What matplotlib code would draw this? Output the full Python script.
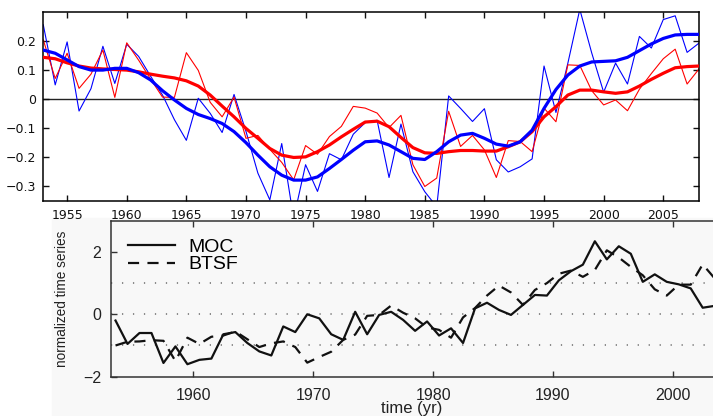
import numpy as np
import matplotlib
matplotlib.use("Agg")
import matplotlib.pyplot as plt
from matplotlib.patches import Rectangle

# top panel: annual values 1953-2008
years_top = np.arange(1953, 2009)
red_thin = [0.205, 0.072, 0.159, 0.038, 0.087, 0.17, 0.007, 0.195, 0.135, 0.07,
            0.008, 0.007, 0.161, 0.1, -0.01, -0.06, 0.008, -0.134, -0.124, -0.172,
            -0.217, -0.277, -0.159, -0.189, -0.128, -0.093, -0.024, -0.03, -0.047, -0.097,
            -0.055, -0.225, -0.3, -0.271, -0.041, -0.162, -0.124, -0.174, -0.269, -0.142,
            -0.145, -0.18, -0.03, -0.077, 0.119, 0.117, 0.03, -0.019, -0.002, -0.039,
            0.035, 0.089, 0.14, 0.173, 0.053, 0.105]
blue_thin = [0.257, 0.05, 0.198, -0.04, 0.037, 0.183, 0.055, 0.19, 0.148, 0.08,
             0.015, -0.07, -0.141, 0.004, -0.048, -0.114, 0.017, -0.11, -0.254, -0.346,
             -0.152, -0.41, -0.225, -0.317, -0.187, -0.208, -0.12, -0.08, -0.072, -0.269,
             -0.085, -0.249, -0.318, -0.37, 0.012, -0.031, -0.076, -0.032, -0.208, -0.25,
             -0.232, -0.205, 0.115, -0.045, 0.125, 0.31, 0.16, 0.025, 0.125, 0.053,
             0.217, 0.177, 0.275, 0.288, 0.162, 0.194]
red_smooth = [0.145, 0.14, 0.126, 0.115, 0.108, 0.105, 0.103, 0.101, 0.095, 0.087,
              0.08, 0.074, 0.064, 0.046, 0.015, -0.023, -0.06, -0.1, -0.134, -0.169,
              -0.192, -0.2, -0.198, -0.18, -0.157, -0.129, -0.103, -0.078, -0.075, -0.094,
              -0.131, -0.166, -0.184, -0.186, -0.18, -0.176, -0.176, -0.178, -0.178, -0.163,
              -0.146, -0.111, -0.06, -0.025, 0.015, 0.032, 0.032, 0.026, 0.021, 0.026,
              0.046, 0.069, 0.09, 0.109, 0.113, 0.115]
blue_smooth = [0.17, 0.159, 0.136, 0.113, 0.101, 0.101, 0.107, 0.107, 0.092, 0.067,
               0.03, -0.002, -0.031, -0.052, -0.066, -0.083, -0.111, -0.149, -0.192, -0.232,
               -0.261, -0.278, -0.278, -0.267, -0.238, -0.207, -0.175, -0.146, -0.143, -0.157,
               -0.18, -0.203, -0.207, -0.18, -0.146, -0.123, -0.117, -0.134, -0.154, -0.161,
               -0.146, -0.106, -0.031, 0.034, 0.084, 0.115, 0.129, 0.131, 0.133, 0.145,
               0.168, 0.191, 0.21, 0.222, 0.224, 0.224]
top_xticks = [1955, 1960, 1965, 1970, 1975, 1980, 1985, 1990, 1995, 2000, 2005]
top_yticks = [-0.3, -0.2, -0.1, 0, 0.1, 0.2]
top_ylabels = ["\u22120.3", "\u22120.2", "\u22120.1", "0", "0.1", "0.2"]

# bottom panel: mid-year values 1953.5-2003.5
years_bot = np.arange(1953, 2004) + 0.5
moc = [-0.2, -0.95, -0.6, -0.6, -1.56, -1.03, -1.6, -1.46, -1.42, -0.64,
       -0.57, -0.92, -1.19, -1.32, -0.39, -0.57, 0.0, -0.13, -0.64, -0.82,
       0.08, -0.64, -0.02, 0.08, -0.18, -0.53, -0.23, -0.68, -0.45, -0.92,
       0.19, 0.37, 0.14, -0.02, 0.3, 0.62, 0.6, 1.09, 1.38, 1.59,
       2.34, 1.76, 2.18, 1.94, 1.04, 1.28, 1.04, 0.96, 0.83, 0.21, 0.27]
btsf = [-1.0, -0.88, -0.87, -0.83, -0.85, -1.5, -0.75, -0.95, -0.72, -0.68,
        -0.55, -0.8, -1.05, -0.93, -0.87, -1.05, -1.55, -1.37, -1.2, -0.82,
        -0.65, -0.05, -0.02, 0.28, 0.05, -0.13, -0.42, -0.5, -0.75, -0.1,
        0.2, 0.6, 0.92, 0.7, 0.3, 0.78, 1.0, 1.3, 1.4, 1.2,
        1.42, 2.05, 1.82, 1.52, 1.25, 0.8, 0.6, 0.95, 0.95, 1.6, 1.15]
bot_xticks = [1960, 1970, 1980, 1990, 2000]
bot_yticks = [-2, 0, 2]
bot_ylabels = ["\u22122", "0", "2"]
ref_levels = [-1, 0, 1]

plt.rcParams["lines.scale_dashes"] = False

fig = plt.figure(figsize=(7.13, 4.16), dpi=100)
fig.patches.append(Rectangle((0.073, 0.0), 0.927, 0.475, transform=fig.transFigure,
                             color="#f8f8f8", zorder=-10))

# ---- top panel
ax1 = fig.add_axes([0.0607, 0.5168, 0.9197, 0.4536])
ax1.axhline(0, color="#222222", lw=1.0, zorder=1)
ax1.plot(years_top, blue_thin, color="#0000ff", lw=0.8, zorder=2)
ax1.plot(years_top, red_thin, color="#ff0000", lw=0.8, zorder=2)
ax1.plot(years_top, red_smooth, color="#ff0000", lw=2.3, zorder=3)
ax1.plot(years_top, blue_smooth, color="#0000ff", lw=2.3, zorder=4)
ax1.set_xlim(1953, 2008)
ax1.set_ylim(-0.35, 0.3)
ax1.set_xticks(top_xticks)
ax1.set_yticks(top_yticks)
ax1.set_yticklabels(top_ylabels)
ax1.tick_params(direction="in", top=True, right=True, length=4, width=1,
                labelsize=9, colors="#111111")
ax1.tick_params(axis="x", pad=6)
ax1.tick_params(axis="y", pad=5)
for s in ax1.spines.values():
    s.set_linewidth(1.1)

# ---- bottom panel
ax2 = fig.add_axes([0.1553, 0.0945, 0.8447, 0.375])
for lev in ref_levels:
    ax2.axhline(lev, color="#777777", lw=1.2, linestyle=(0, (0.9, 7.0)), zorder=1)
ax2.plot(years_bot, moc, color="#111111", lw=1.6, label="MOC", zorder=3)
ax2.plot(years_bot, btsf, color="#111111", lw=1.6, linestyle=(0, (8, 6)),
         label="BTSF", zorder=2)
ax2.set_xlim(1953.1, 2003.36)
ax2.set_ylim(-2, 3)
ax2.set_xticks(bot_xticks)
ax2.set_yticks(bot_yticks)
ax2.set_yticklabels(bot_ylabels)
ax2.set_facecolor("none")
ax2.spines["right"].set_visible(False)
for s in ["left", "top", "bottom"]:
    ax2.spines[s].set_linewidth(1.1)
    ax2.spines[s].set_color("#333333")
ax2.tick_params(direction="in", top=True, length=4, width=1, colors="#333333",
                labelsize=11.5, labelfontfamily="Liberation Sans")
ax2.tick_params(axis="x", pad=8, labelcolor="#222222")
ax2.tick_params(axis="y", pad=7, labelcolor="#222222")
ax2.set_xlabel("time (yr)", fontsize=12, family="Liberation Sans",
               color="#222222", labelpad=-1)
ax2.set_ylabel("normalized time series", fontsize=9.8, family="Liberation Sans",
               color="#222222", labelpad=10)
leg = ax2.legend(loc="upper left", frameon=False, handlelength=2.4,
                 prop={"family": "Liberation Sans", "size": 14},
                 borderaxespad=0.5, labelspacing=0.0, handletextpad=0.7)

fig.savefig("out.png", dpi=100)
